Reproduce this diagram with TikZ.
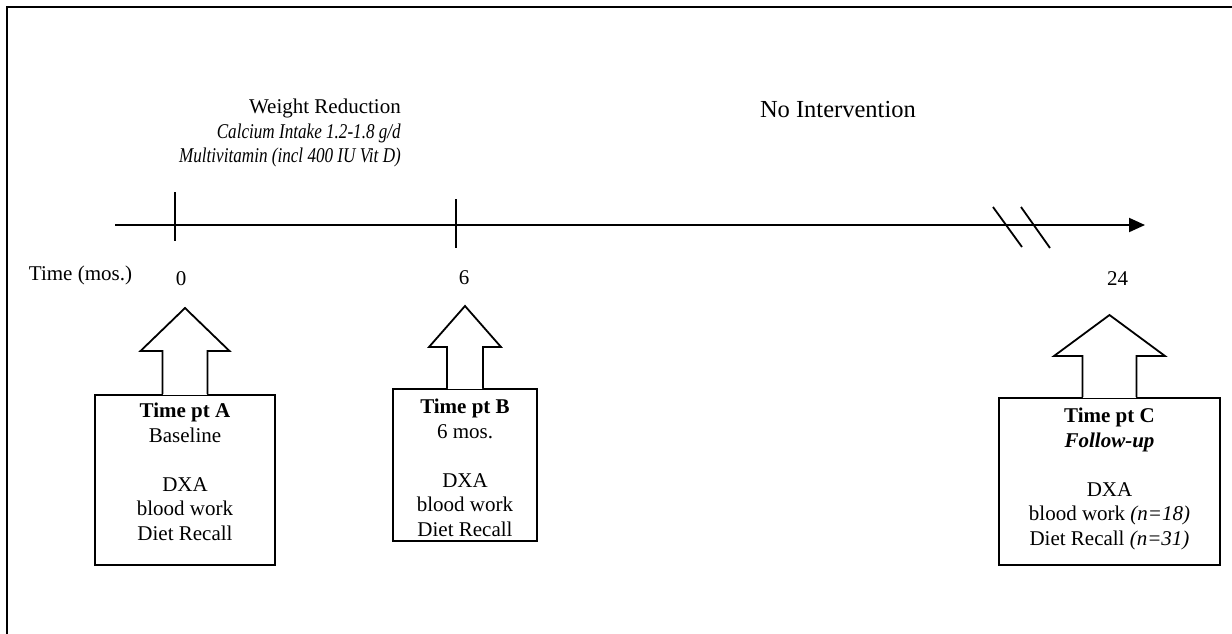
\documentclass[tikz,border=0pt]{standalone}
\usepackage{fontspec}
\usepackage{graphicx}
\setmainfont{Liberation Serif}
\usetikzlibrary{arrows.meta,positioning}

\tikzset{tpbox/.style={draw,line width=1.8pt,inner sep=0pt}}
\tikzset{boxtext/.style={align=center,inner sep=0pt,font=\fontsize{21}{24.5}\selectfont}}
\tikzset{callout/.style={line width=1.8pt,line join=miter,fill=white}}
\tikzset{lbl/.style={inner sep=0pt,font=\fontsize{21}{24.5}\selectfont}}
\tikzset{gap/.style={white,line width=2.4pt}}

\begin{document}
\begin{tikzpicture}[x=1pt,y=1pt]
  \useasboundingbox (0,0) rectangle (1232,-633);
  \clip (0,0) rectangle (1232,-633);
  \draw[line width=2pt] (7,-7) rectangle (1250,-650);

  % phases
  \node[lbl,align=right,anchor=north east] (phase1) at (401,-99) {Weight Reduction\\ \scalebox{0.815}[1]{\textit{Calcium Intake 1.2-1.8 g/d}}\\ \scalebox{0.815}[1]{\textit{Multivitamin (incl 400 IU Vit D)}}};
  \node[lbl,font=\fontsize{24.5}{28}\selectfont,anchor=base east] (phase2) at (916,-117) {No Intervention};

  % time axis
  \coordinate (axisstart) at (115,-225);
  \coordinate (axisend) at (1145,-225);
  \draw[line width=2pt,-{Triangle[length=16pt,width=14pt]}] (axisstart) -- (axisend);
  \draw[line width=1.8pt] (175,-192) -- (175,-241);
  \draw[line width=1.8pt] (456,-199) -- (456,-248);
  \draw[line width=1.8pt] (993,-207) -- (1022,-247) (1021,-207) -- (1050,-248);

  \node[lbl,anchor=base] (timelbl) at (80.5,-280) {Time (mos.)};
  \node[lbl,anchor=base] (mo0) at (181,-285) {0};
  \node[lbl,anchor=base] (mo6) at (464,-284) {6};
  \node[lbl,anchor=base] (mo24) at (1117.5,-285) {24};

  % time points
  \node[tpbox,minimum width=180pt,minimum height=170pt,anchor=north] (boxA) at (185,-394) {};
  \node[tpbox,minimum width=144pt,minimum height=152pt,anchor=north] (boxB) at (465,-388) {};
  \node[tpbox,minimum width=221pt,minimum height=167pt,anchor=north] (boxC) at (1109.5,-397) {};

  \node[boxtext,below=9pt of boxA.north] (txtA) {\textbf{Time pt A}\\Baseline\\[24.5pt]DXA\\blood work\\Diet Recall};
  \node[boxtext,below=11pt of boxB.north] (txtB) {\textbf{Time pt B}\\6 mos.\\[24.5pt]DXA\\blood work\\Diet Recall};
  \node[boxtext,below=11pt of boxC.north] (txtC) {\textbf{Time pt C}\\\textbf{\textit{Follow-up}}\\[24.5pt]DXA\\blood work \textit{(n=18)}\\Diet Recall \textit{(n=31)}};

  \draw[gap] ([xshift=-21.6pt]boxA.north) -- ([xshift=21.6pt]boxA.north);
  \draw[callout] ([xshift=-22.5pt]boxA.north) -- ++(0,43) -- ++(-22,0) -- ++(44.5,43) -- ++(44.5,-43) -- ++(-22,0) -- ++(0,-43);
  \draw[gap] ([xshift=-17.1pt]boxB.north) -- ([xshift=17.1pt]boxB.north);
  \draw[callout] ([xshift=-18pt]boxB.north) -- ++(0,41) -- ++(-18,0) -- ++(36,41) -- ++(36,-41) -- ++(-18,0) -- ++(0,-41);
  \draw[gap] ([xshift=-26.1pt]boxC.north) -- ([xshift=26.1pt]boxC.north);
  \draw[callout] ([xshift=-27pt]boxC.north) -- ++(0,41) -- ++(-28.5,0) -- ++(55.5,41) -- ++(55.5,-41) -- ++(-28.5,0) -- ++(0,-41);
\end{tikzpicture}
\end{document}
